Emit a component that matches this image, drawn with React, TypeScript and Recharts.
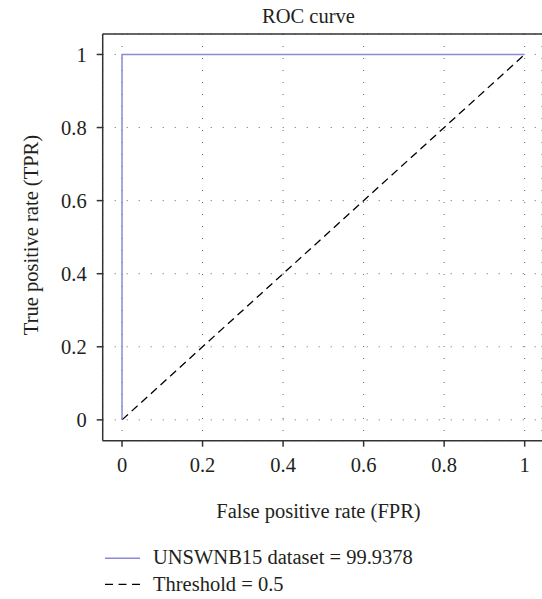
import React from "react";
import { LineChart, Line, XAxis, YAxis, CartesianGrid, ReferenceLine } from "recharts";

const rocFpr = [0, 0, 1];
const rocTpr = [0, 1, 1];
const thresholdFpr = [0, 1];
const thresholdTpr = [0, 1];
const tickValues = [0, 0.2, 0.4, 0.6, 0.8, 1];
const title = "ROC curve";
const xLabel = "False positive rate (FPR)";
const yLabel = "True positive rate (TPR)";
const rocName = "UNSWNB15 dataset = 99.9378";
const thresholdName = "Threshold = 0.5";

const rocData = rocFpr.map((x, i) => ({ fpr: x, tpr: rocTpr[i] }));
const thresholdData = thresholdFpr.map((x, i) => ({ fpr: x, tpr: thresholdTpr[i] }));

const FONT = "'Liberation Serif', 'DejaVu Serif', serif";
const FS = 20.5;
const TEXT = "#231f20";
const X_DOMAIN: [number, number] = [-0.048, 1.043];
const Y_DOMAIN: [number, number] = [-0.057, 1.056];
const ROC_COLOR = "#8a8ad8";
const AXIS_COLOR = "#333";

export default function App() {
  const tickStyle = { fontFamily: FONT, fontSize: FS, fill: TEXT };
  return (
    <div style={{ position: "fixed", left: 0, top: 0, width: 542, height: 599, overflow: "hidden", background: "#fff" }}>
      <LineChart width={542} height={599} margin={{ top: 34, right: 0, left: 0, bottom: 0 }}>
        <CartesianGrid stroke="#666" strokeDasharray="1 11" strokeWidth={1} horizontal vertical />
        <XAxis
          type="number"
          dataKey="fpr"
          domain={X_DOMAIN}
          allowDataOverflow
          ticks={tickValues}
          tickFormatter={(v: number) => String(v)}
          height={158.3}
          tickSize={6}
          tickMargin={11}
          tick={tickStyle}
          axisLine={{ stroke: AXIS_COLOR, strokeWidth: 1.5 }}
          tickLine={{ stroke: AXIS_COLOR, strokeWidth: 1.5 }}
        />
        <YAxis
          type="number"
          domain={Y_DOMAIN}
          allowDataOverflow
          ticks={tickValues}
          tickFormatter={(v: number) => String(v)}
          width={102.7}
          tickSize={6}
          tickMargin={10}
          tick={tickStyle}
          axisLine={{ stroke: AXIS_COLOR, strokeWidth: 1.5 }}
          tickLine={{ stroke: AXIS_COLOR, strokeWidth: 1.5 }}
        />
        <ReferenceLine y={Y_DOMAIN[1]} stroke={AXIS_COLOR} strokeWidth={1.5} />
        <Line
          data={thresholdData}
          dataKey="tpr"
          type="linear"
          stroke="#000"
          strokeWidth={1.3}
          strokeDasharray="8 5"
          dot={false}
          isAnimationActive={false}
        />
        <Line
          data={rocData}
          dataKey="tpr"
          type="linear"
          stroke={ROC_COLOR}
          strokeWidth={1.5}
          dot={false}
          isAnimationActive={false}
        />
      </LineChart>
      <svg
        width={542}
        height={599}
        style={{ position: "absolute", left: 0, top: 0, pointerEvents: "none" }}
        fontFamily={FONT}
        fontSize={FS}
        fill={TEXT}
      >
        <text x={308.5} y={23.3} textAnchor="middle">{title}</text>
        <text x={318.5} y={518} textAnchor="middle">{xLabel}</text>
        <text x={38} y={235} textAnchor="middle" transform="rotate(-90 38 235)">{yLabel}</text>
        <line x1={105} y1={558.3} x2={140} y2={558.3} stroke={ROC_COLOR} strokeWidth={1.5} />
        <text x={153} y={564}>{rocName}</text>
        <line x1={105} y1={584.3} x2={140} y2={584.3} stroke="#000" strokeWidth={1.3} strokeDasharray="8 5.5" />
        <text x={153} y={590.7}>{thresholdName}</text>
      </svg>
    </div>
  );
}
